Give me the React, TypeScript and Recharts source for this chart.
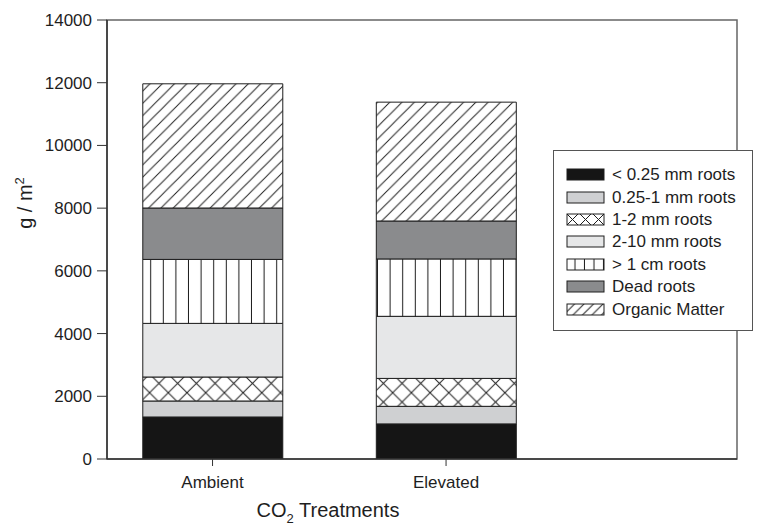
import React from 'react';
import { BarChart, Bar, XAxis, YAxis, ReferenceArea, Legend } from 'recharts';

// root biomass pools under two CO2 treatments (g / m2)
const treatments = ['Ambient', 'Elevated'];
const treatmentPos = [1, 2];
const rootsLt025 = [1340, 1120];
const roots025to1 = [510, 560];
const roots1to2 = [765, 890];
const roots2to10 = [1710, 1980];
const rootsGt1cm = [2040, 1830];
const deadRoots = [1640, 1210];
const organicMatter = [3960, 3790];
const yTicks = [0, 2000, 4000, 6000, 8000, 10000, 12000, 14000];
const xDomain = [0.548, 3.246];

const series = [
  { key: 'lt025', name: '< 0.25 mm roots', values: rootsLt025, fill: '#151515', swatch: '#151515' },
  { key: 'r025', name: '0.25-1 mm roots', values: roots025to1, fill: '#cfd0d2', swatch: '#cfd0d2' },
  { key: 'r12', name: '1-2 mm roots', values: roots1to2, fill: 'url(#pat-cross)', swatch: 'url(#leg-cross)' },
  { key: 'r210', name: '2-10 mm roots', values: roots2to10, fill: '#e6e7e8', swatch: '#e6e7e8' },
  { key: 'gt1', name: '> 1 cm roots', values: rootsGt1cm, fill: 'url(#pat-vert)', swatch: 'url(#leg-vert)' },
  { key: 'dead', name: 'Dead roots', values: deadRoots, fill: '#8a8b8d', swatch: '#8a8b8d' },
  { key: 'om', name: 'Organic Matter', values: organicMatter, fill: 'url(#pat-diag)', swatch: 'url(#leg-diag)' },
];

const data = treatments.map((name, i) => {
  const row: Record<string, string | number> = { name, pos: treatmentPos[i] };
  series.forEach(s => { row[s.key] = s.values[i]; });
  return row;
});

const FONT = '"Liberation Sans", Arial, Helvetica, sans-serif';
const INK = '#1e1e1e';

function Patterns() {
  const diag = (id: string, s: number) => (
    <pattern id={id} patternUnits="userSpaceOnUse" width={s} height={s}>
      <rect width={s} height={s} fill="#fff" />
      <path d={`M0,${s} L${s},0 M${-s / 4},${s / 4} L${s / 4},${-s / 4} M${s * 0.75},${s * 1.25} L${s * 1.25},${s * 0.75}`}
        stroke={INK} strokeWidth={1} />
    </pattern>
  );
  const vert = (id: string, s: number) => (
    <pattern id={id} patternUnits="userSpaceOnUse" width={s} height={10}>
      <rect width={s} height={10} fill="#fff" />
      <path d={`M${s - 0.5},0 V10`} stroke={INK} strokeWidth={1} />
    </pattern>
  );
  const cross = (id: string, s: number) => (
    <pattern id={id} patternUnits="userSpaceOnUse" width={s} height={s}>
      <rect width={s} height={s} fill="#fff" />
      <path d={`M0,0 L${s},${s} M${s},0 L0,${s}`} stroke={INK} strokeWidth={1} />
    </pattern>
  );
  return (
    <svg width={0} height={0} style={{ position: 'absolute' }}>
      <defs>
        {diag('pat-diag', 12.3)}
        {vert('pat-vert', 12.6)}
        {cross('pat-cross', 18.7)}
        {diag('leg-diag', 9.5)}
        {vert('leg-vert', 9.5)}
        {cross('leg-cross', 13)}
      </defs>
    </svg>
  );
}

function LegendBox() {
  return (
    <div style={{
      width: 200, height: 181, border: '1px solid #555', background: '#fff',
      fontFamily: FONT, fontSize: 17, color: '#1e1e1e', boxSizing: 'border-box',
      paddingTop: 13,
    }}>
      {series.map(s => (
        <div key={s.key} style={{ display: 'flex', alignItems: 'center', height: 22.4 }}>
          <svg width={40} height={14} style={{ marginLeft: 12, marginRight: 6 }}>
            <rect x={1} y={1} width={37} height={11} fill={s.swatch} stroke={INK} strokeWidth={1} />
          </svg>
          <span style={{ whiteSpace: 'nowrap' }}>{s.name}</span>
        </div>
      ))}
    </div>
  );
}

const YTitle = () => (
  <text transform="translate(32,203) rotate(-90)" textAnchor="middle" fontFamily={FONT} fontSize={20} fill={INK}>
    g / m<tspan dy={-8} fontSize={13}>2</tspan>
  </text>
);

const XTitle = () => (
  <text x={328} y={517} textAnchor="middle" fontFamily={FONT} fontSize={20} fill={INK}>
    CO<tspan dy={6} fontSize={13}>2</tspan><tspan dy={-6}> Treatments</tspan>
  </text>
);

export default function App() {
  return (
    <div style={{ position: 'absolute', left: 0, top: 0, width: 759, height: 525, background: '#fff' }}>
      <Patterns />
      <BarChart width={759} height={525} data={data} barSize={140}
        margin={{ top: 20, right: 22, bottom: 36, left: 0 }}>
        <XAxis type="number" dataKey="pos" domain={xDomain} ticks={treatmentPos} allowDataOverflow
          tickFormatter={(v: number) => treatments[treatmentPos.indexOf(v)] ?? ''}
          height={30} tickSize={7} tickMargin={10}
          tick={{ fontSize: 17, fill: INK, fontFamily: FONT }}
          axisLine={{ stroke: '#333', strokeWidth: 1.5 }} tickLine={{ stroke: '#333' }}
          label={{ content: XTitle }} />
        <YAxis type="number" domain={[0, 14000]} ticks={yTicks} allowDataOverflow
          width={107} tickSize={10} tickMargin={5}
          tick={{ fontSize: 17, fill: INK, fontFamily: FONT }}
          axisLine={{ stroke: '#333', strokeWidth: 1.5 }} tickLine={{ stroke: '#333' }}
          label={{ content: YTitle }} />
        <ReferenceArea x1={xDomain[0]} x2={xDomain[1]} y1={0} y2={14000}
          fill="none" stroke="#666" strokeWidth={1.5} />
        {series.map(s => (
          <Bar key={s.key} dataKey={s.key} name={s.name} stackId="pools"
            fill={s.fill} stroke={INK} strokeWidth={1} isAnimationActive={false} />
        ))}
        <Legend layout="vertical" align="center" verticalAlign="middle"
          wrapperStyle={{ left: 553, top: 150, width: 200 }}
          content={() => <LegendBox />} />
      </BarChart>
    </div>
  );
}
